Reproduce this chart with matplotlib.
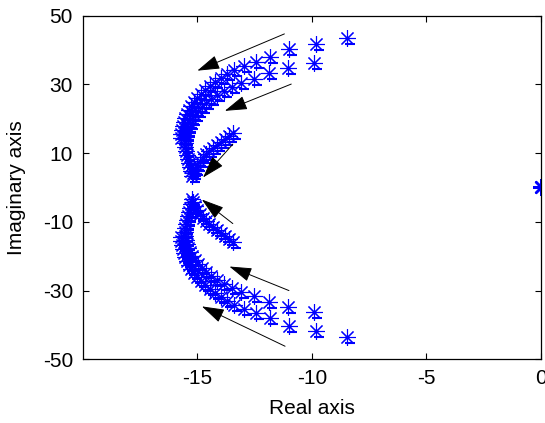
import numpy as np
import matplotlib
matplotlib.use("Agg")
import matplotlib.pyplot as plt
import matplotlib.transforms as mtransforms

plt.rcParams['font.family'] = ['Liberation Sans', 'DejaVu Sans']
plt.rcParams['axes.unicode_minus'] = False

# closed-loop poles, upper half-plane (lower half is the conjugate)
outer_re = [-8.45, -9.80, -10.99, -11.83, -12.43, -12.97, -13.38, -13.70, -13.96, -14.22,
            -14.43, -14.65, -14.83, -15.00, -15.13, -15.26, -15.35, -15.43, -15.52, -15.57,
            -15.61, -15.65, -15.70, -15.70]
outer_im = [43.4, 41.7, 40.2, 38.0, 36.4, 35.4, 34.2, 33.0, 31.8, 30.7,
            29.5, 28.3, 27.1, 26.0, 24.8, 23.7, 22.5, 21.3, 20.2, 19.0,
            17.8, 16.7, 15.5, 14.3]

inner_re = [-9.90, -11.06, -11.88, -12.51, -13.09, -13.48, -13.83, -14.13, -14.39, -14.61,
            -14.78, -14.96, -15.09, -15.22, -15.30, -15.39, -15.43, -15.48, -15.52, -15.52,
            -15.52, -15.48, -15.43, -15.39, -15.35, -15.30, -15.26]
inner_im = [36.3, 34.8, 33.4, 31.7, 30.3, 29.2, 28.0, 26.9, 25.7, 24.5,
            23.4, 22.2, 21.1, 19.9, 18.7, 17.6, 16.4, 15.2, 14.1, 12.9,
            11.7, 10.6, 9.4, 8.2, 7.1, 5.9, 4.7]

hook_re = [-13.43, -13.61, -13.78, -13.96, -14.13, -14.30, -14.48, -14.61, -14.74, -14.87,
           -15.00, -15.09, -15.17, -15.22]
hook_im = [15.8, 14.9, 14.0, 13.2, 12.3, 11.4, 10.6, 9.7, 8.8, 7.6,
           6.5, 5.3, 4.1, 3.3]

origin_re = [0.0, 0.0]
origin_im = [0.0, 0.0]

# direction arrows: (start_re, start_im, tip_re, tip_im)
arrows = [
    (-11.2, 44.7, -15.0, 34.0),
    (-10.9, 30.1, -13.8, 22.3),
    (-13.45, 12.6, -14.75, 2.9),
    (-13.45, -10.5, -14.8, -3.5),
    (-11.0, -30.0, -13.6, -23.0),
    (-11.17, -46.2, -14.8, -34.6),
]

fig = plt.figure(figsize=(5.45, 4.23), dpi=100)
ax = fig.add_axes([0.1518, 0.1506, 0.8409, 0.8123])

blue = '#0000ff'
star = (8, 2, 0)  # 8-arm asterisk
dash_off = mtransforms.offset_copy(ax.transData, fig=fig, x=3, y=-6, units='dots')

for re, im in [(outer_re, outer_im), (inner_re, inner_im), (hook_re, hook_im)]:
    re = np.array(re)
    im = np.array(im)
    for sgn in (1, -1):
        ax.plot(re, sgn * im, ls='none', marker=star, ms=12, mew=0.8, color=blue)
        ax.plot(re, sgn * im, ls='none', marker='_', ms=7, mew=1.5,
                color=blue, transform=dash_off)

ax.plot(origin_re, origin_im, ls='none', marker=star, ms=12, mew=1.6, color=blue)

for x0, y0, x1, y1 in arrows:
    ax.annotate('', xy=(x1, y1), xytext=(x0, y0),
                arrowprops=dict(arrowstyle='-|>,head_length=0.7,head_width=0.22',
                                color='k', lw=0.7, mutation_scale=20,
                                shrinkA=0, shrinkB=0))

ax.set_xlim(-20, 0)
ax.set_ylim(-50, 50)
ax.set_xticks([-15, -10, -5, 0])
ax.set_yticks([-50, -30, -10, 10, 30, 50])
ax.tick_params(direction='in', length=4, width=0.8, top=True, right=True,
               labelsize=15, pad=7)
for sp in ax.spines.values():
    sp.set_linewidth(0.9)
ax.set_xlabel('Real axis', fontsize=15, labelpad=8)
ax.set_ylabel('Imaginary axis', fontsize=15, labelpad=12)

fig.savefig('out.png', dpi=100)
